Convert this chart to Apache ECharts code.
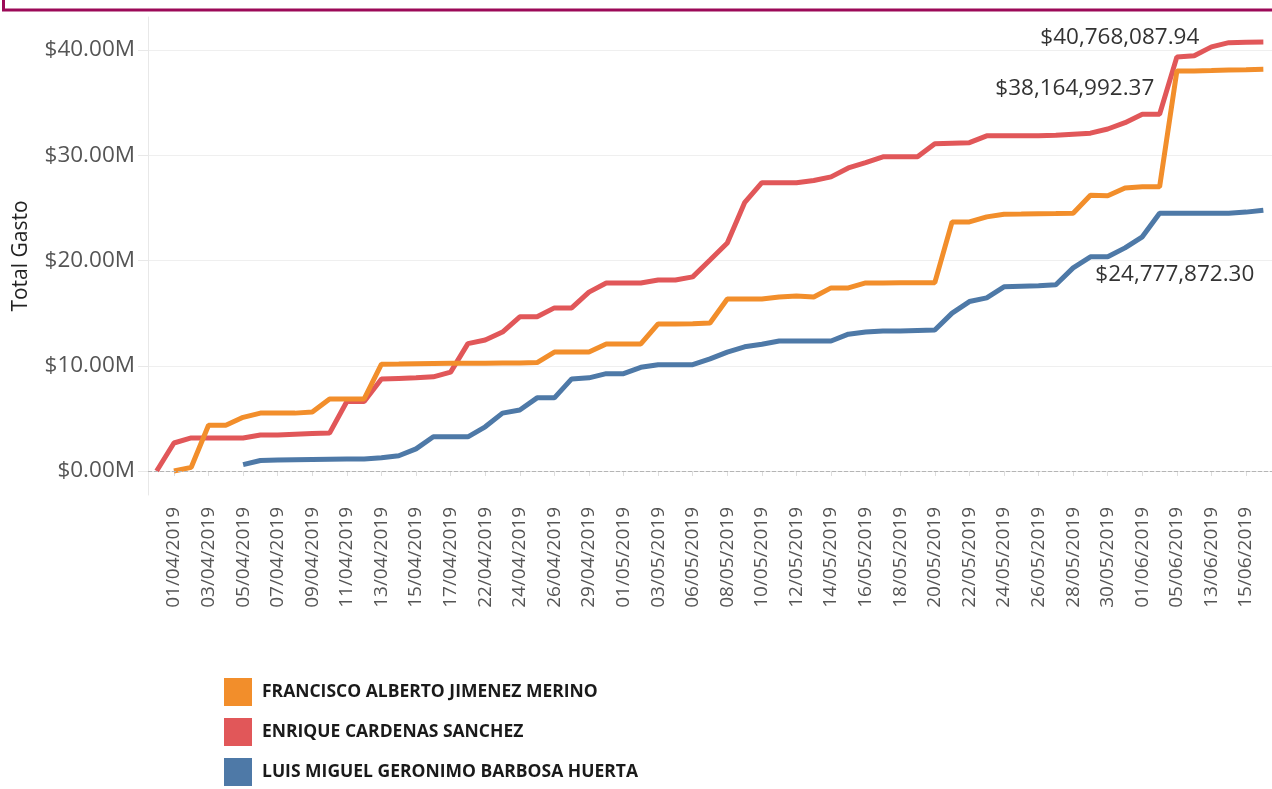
<!DOCTYPE html>
<html>
<head>
<meta charset="utf-8">
<script src="https://cdn.jsdelivr.net/npm/echarts@6/dist/echarts.min.js"></script>
<style>
  html, body { margin: 0; padding: 0; background: #ffffff; }
  #chart { width: 1272px; height: 789px; }
</style>
</head>
<body>
<div id="chart"></div>
<script>
// ---- data (values in millions of pesos) ----
const fechas = [
  '31/03/2019','01/04/2019','02/04/2019','03/04/2019','04/04/2019','05/04/2019','06/04/2019','07/04/2019',
  '08/04/2019','09/04/2019','10/04/2019','11/04/2019','12/04/2019','13/04/2019','14/04/2019','15/04/2019',
  '16/04/2019','17/04/2019','21/04/2019','22/04/2019','23/04/2019','24/04/2019','25/04/2019','26/04/2019',
  '27/04/2019','29/04/2019','30/04/2019','01/05/2019','02/05/2019','03/05/2019','04/05/2019','06/05/2019',
  '07/05/2019','08/05/2019','09/05/2019','10/05/2019','11/05/2019','12/05/2019','13/05/2019','14/05/2019',
  '15/05/2019','16/05/2019','17/05/2019','18/05/2019','19/05/2019','20/05/2019','21/05/2019','22/05/2019',
  '23/05/2019','24/05/2019','25/05/2019','26/05/2019','27/05/2019','28/05/2019','29/05/2019','30/05/2019',
  '31/05/2019','01/06/2019','03/06/2019','05/06/2019','10/06/2019','13/06/2019','14/06/2019','15/06/2019',
  '16/06/2019'
];

const nombreFrancisco = 'FRANCISCO ALBERTO JIMENEZ MERINO';
const nombreEnrique = 'ENRIQUE CARDENAS SANCHEZ';
const nombreLuis = 'LUIS MIGUEL GERONIMO BARBOSA HUERTA';

const gastoFrancisco = [
  '-', 0.0, 0.35, 4.35, 4.35, 5.1, 5.5, 5.5,
  5.5, 5.6, 6.85, 6.85, 6.85, 10.15, 10.17, 10.2,
  10.22, 10.24, 10.25, 10.25, 10.27, 10.27, 10.3, 11.3,
  11.3, 11.3, 12.07, 12.07, 12.07, 13.97, 13.97, 14.0,
  14.07, 16.35, 16.35, 16.35, 16.54, 16.63, 16.54, 17.4,
  17.4, 17.87, 17.87, 17.9, 17.9, 17.9, 23.67, 23.67,
  24.15, 24.4, 24.42, 24.45, 24.47, 24.5, 26.2, 26.15,
  26.9, 27.0, 27.0, 38.02, 38.02, 38.05, 38.1, 38.12,
  38.16499237
];

const gastoEnrique = [
  0.0, 2.66, 3.14, 3.14, 3.14, 3.14, 3.42, 3.42,
  3.5, 3.56, 3.6, 6.6, 6.6, 8.75, 8.8, 8.85,
  8.95, 9.4, 12.1, 12.45, 13.2, 14.65, 14.65, 15.5,
  15.5, 17.0, 17.87, 17.87, 17.87, 18.15, 18.15, 18.45,
  20.05, 21.67, 25.5, 27.4, 27.4, 27.4, 27.6, 27.95,
  28.8, 29.3, 29.85, 29.85, 29.85, 31.1, 31.15, 31.2,
  31.85, 31.85, 31.85, 31.85, 31.9, 32.0, 32.1, 32.5,
  33.1, 33.9, 33.9, 39.35, 39.45, 40.3, 40.7, 40.75,
  40.76808794
];

const gastoLuis = [
  '-', '-', '-', '-', '-', 0.6, 1.0, 1.05,
  1.08, 1.1, 1.12, 1.13, 1.14, 1.25, 1.45, 2.1,
  3.25, 3.25, 3.25, 4.2, 5.5, 5.8, 6.95, 6.95,
  8.75, 8.85, 9.25, 9.25, 9.85, 10.1, 10.1, 10.1,
  10.65, 11.3, 11.8, 12.05, 12.35, 12.35, 12.35, 12.35,
  13.0, 13.2, 13.3, 13.3, 13.35, 13.4, 15.0, 16.1,
  16.45, 17.5, 17.55, 17.6, 17.7, 19.3, 20.35, 20.35,
  21.2, 22.25, 24.5, 24.5, 24.5, 24.5, 24.5, 24.6,
  24.7778723
];

const colores = { francisco: '#f28e2b', enrique: '#e15759', luis: '#4e79a7' };
const FONT = '"Open Sans", "Noto Sans", sans-serif';

function fmtPesos(m) {
  const v = Math.round(m * 1e8) / 100; // dollars with cents
  return '$' + v.toLocaleString('en-US', { minimumFractionDigits: 2, maximumFractionDigits: 2 });
}

function endLabel(offset) {
  return {
    show: true,
    distance: 0,
    align: 'right',
    verticalAlign: 'middle',
    offset: offset,
    fontFamily: FONT,
    fontSize: 22.5,
    color: '#333333',
    formatter: p => fmtPesos(Array.isArray(p.value) ? p.value[1] : p.value)
  };
}

const chart = echarts.init(document.getElementById('chart'), null, { renderer: 'canvas' });

const option = {
  animation: false,
  backgroundColor: '#ffffff',
  textStyle: { fontFamily: FONT },
  graphic: [
    {
      type: 'rect',
      shape: { x: 3.5, y: -20, width: 1300, height: 30 },
      style: { fill: 'none', stroke: '#9c0a58', lineWidth: 3 },
      silent: true
    }
  ],
  grid: { left: 148, top: 17, width: 1127, height: 478, containLabel: false },
  legend: {
    orient: 'vertical',
    left: 224,
    top: 678,
    padding: 0,
    itemWidth: 28,
    itemHeight: 28,
    itemGap: 12,
    icon: 'rect',
    data: [nombreFrancisco, nombreEnrique, nombreLuis],
    textStyle: { fontFamily: FONT, fontSize: 17.5, fontWeight: 'bold', color: '#1a1a1a', padding: [0, 0, 0, 5] }
  },
  xAxis: {
    type: 'category',
    data: fechas,
    boundaryGap: true,
    axisLine: { show: true, lineStyle: { color: '#e6e6e6', width: 1 } },
    axisTick: {
      show: true,
      alignWithLabel: true,
      length: 5,
      interval: (i) => i % 2 === 1,
      lineStyle: { color: '#dddddd' }
    },
    axisLabel: {
      rotate: 90,
      interval: (i) => i % 2 === 1,
      fontFamily: FONT,
      fontSize: 19,
      color: '#555555',
      margin: 12
    },
    splitLine: { show: false }
  },
  yAxis: {
    type: 'value',
    min: -2.28,
    max: 43.14,
    splitNumber: 5,
    name: 'Total Gasto',
    nameLocation: 'middle',
    nameGap: 116,
    nameTextStyle: { fontFamily: FONT, fontSize: 21, color: '#222222' },
    axisLine: { show: true, lineStyle: { color: '#e8e8e8' } },
    axisTick: { show: true, length: 10, lineStyle: { color: '#e8e8e8' } },
    axisLabel: {
      showMinLabel: false,
      showMaxLabel: false,
      fontFamily: FONT,
      fontSize: 22.5,
      color: '#555555',
      margin: 13,
      formatter: v => '$' + v.toFixed(2) + 'M'
    },
    splitLine: { show: true, showMinLine: false, showMaxLine: false, lineStyle: { color: '#efefef', width: 1 } }
  },
  series: [
    {
      name: nombreEnrique,
      type: 'line',
      data: gastoEnrique,
      color: colores.enrique,
      showSymbol: false,
      symbol: 'none',
      lineStyle: { width: 5, color: colores.enrique },
      itemStyle: { color: colores.enrique },
      endLabel: endLabel([-64, -4]),
      markLine: {
        silent: true,
        symbol: 'none',
        label: { show: false },
        lineStyle: { type: 'dashed', color: '#b5b5b5', width: 1 },
        data: [{ yAxis: 0 }]
      },
      z: 2
    },
    {
      name: nombreLuis,
      type: 'line',
      data: gastoLuis,
      color: colores.luis,
      showSymbol: false,
      symbol: 'none',
      lineStyle: { width: 5, color: colores.luis },
      itemStyle: { color: colores.luis },
      endLabel: endLabel([-9, 64]),
      z: 3
    },
    {
      name: nombreFrancisco,
      type: 'line',
      data: gastoFrancisco,
      color: colores.francisco,
      showSymbol: false,
      symbol: 'none',
      lineStyle: { width: 5, color: colores.francisco },
      itemStyle: { color: colores.francisco },
      endLabel: endLabel([-109, 19]),
      z: 4
    }
  ]
};

chart.setOption(option);
</script>
</body>
</html>
